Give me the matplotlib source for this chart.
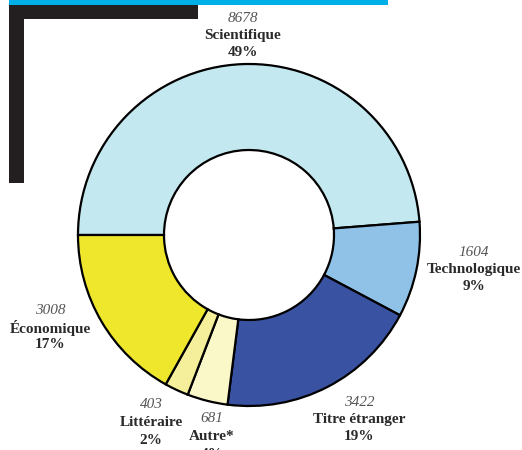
import matplotlib
matplotlib.use("Agg")
import matplotlib.pyplot as plt
from matplotlib.patches import Rectangle

# data
categories = ["Scientifique", "Technologique", "Titre étranger", "Autre*", "Littéraire", "Économique"]
counts = [8678, 1604, 3422, 681, 403, 3008]
percents = ["49%", "9%", "19%", "4%", "2%", "17%"]
colors = ["#c4e8f0", "#90c2e8", "#3a52a2", "#faf7c8", "#f5ee9a", "#efe72c"]

# label anchor (pixel x, pixel y of the number line)
label_pos = [(243, 18), (474, 252), (359, 402), (212, 419), (151, 405), (50, 310)]

W, H = 522, 450
CX, CY = 249, 235
R_OUT, R_IN = 171, 85

plt.rcParams['font.family'] = ['Liberation Serif', 'DejaVu Serif']

fig = plt.figure(figsize=(W / 100, H / 100), dpi=100)
ax = fig.add_axes([0, 0, 1, 1])

ax.pie(counts, colors=colors, startangle=180, counterclock=False,
       center=(CX, H - CY), radius=R_OUT,
       wedgeprops=dict(width=R_OUT - R_IN, edgecolor="black", linewidth=1.6))

ax.set_xlim(0, W)
ax.set_ylim(0, H)
ax.set_aspect("equal")
ax.axis("off")

# decoration: cyan bar and black L
ax.add_patch(Rectangle((9, H - 5), 379, 5, color="#00aee8", lw=0))
ax.add_patch(Rectangle((9, H - 19), 189, 14, color="#231f20", lw=0))
ax.add_patch(Rectangle((9, H - 183), 15, 178, color="#231f20", lw=0))

for name, n, pct, (x, y) in zip(categories, counts, percents, label_pos):
    ax.text(x, H - y, str(n), ha="center", va="center", fontsize=11,
            style="italic", color="#555555")
    ax.text(x, H - y - 18, name, ha="center", va="center", fontsize=11,
            fontweight="bold", color="#2a2a2a")
    ax.text(x, H - y - 35, pct, ha="center", va="center", fontsize=11,
            fontweight="bold", color="#2a2a2a")

fig.savefig("out.png", dpi=100)
